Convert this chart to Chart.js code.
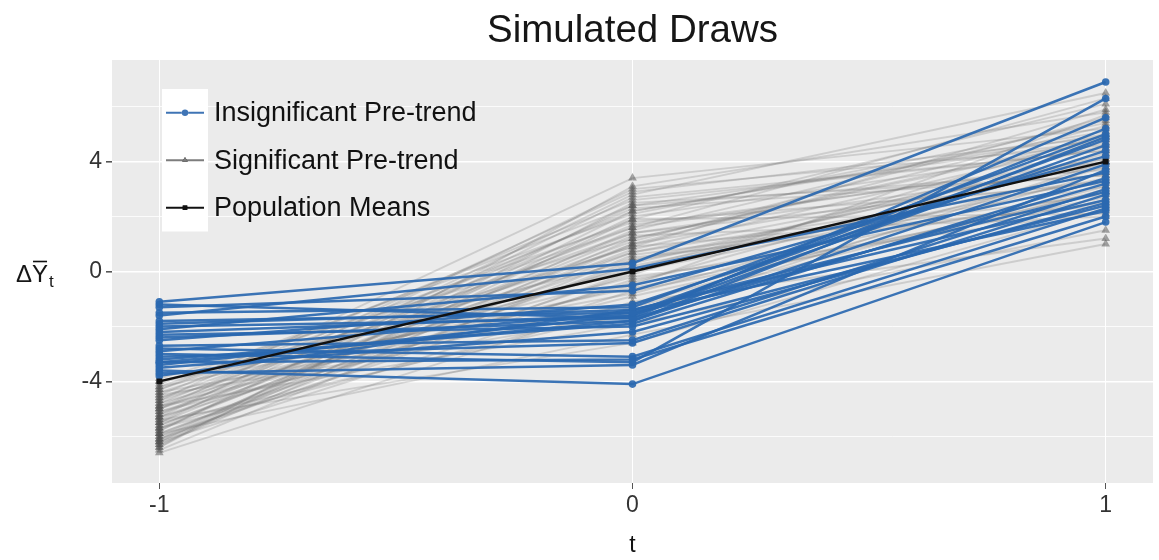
<!DOCTYPE html>
<html>
<head>
<meta charset="utf-8">
<title>Simulated Draws</title>
<script src="https://cdn.jsdelivr.net/npm/chart.js@4/dist/chart.umd.min.js"></script>
<style>
  html, body { margin: 0; padding: 0; background: #fff; }
  #wrap { width: 1159px; height: 560px; position: relative; }
</style>
</head>
<body>
<div id="wrap"><canvas id="draws-chart"></canvas></div>
<script>
/* ─── Data ──────────────────────────────────────────────────────────────────── */

const periods     = [-1, 0, 1];
const yGridValues = [-6, -4, -2, 0, 2, 4, 6];
const yLabelled   = [-4, 0, 4];
const seriesNames = ['Insignificant Pre-trend', 'Significant Pre-trend', 'Population Means'];

// draws whose pre-trend test is not significant (value at t = -1, 0, 1)
const insigPre  = [-1.1, -1.3, -1.5, -1.6, -1.8, -1.9, -2.0, -2.2, -2.3, -2.4, -2.5, -2.7, -2.9,
                   -3.0, -3.1, -3.2, -3.3, -3.4, -3.5, -3.6, -3.7, -3.8, -1.2, -2.1, -3.3, -2.8];
const insigMid  = [0.3, -0.7, -1.3, 0.1, -1.5, -1.4, -1.7, -1.6, -2.0, -1.8, -1.2, -2.5, -1.5,
                   -3.3, -2.6, -1.9, -3.2, -1.6, -2.2, -4.1, -3.4, -1.4, -1.7, -0.5, -1.8, -3.1];
const insigPost = [6.9, 4.2, 5.0, 3.6, 4.8, 2.6, 3.2, 5.2, 2.4, 3.9, 4.4, 3.0, 2.2,
                   6.3, 2.8, 3.4, 2.0, 4.6, 2.5, 1.8, 3.7, 2.9, 5.6, 3.3, 4.9, 2.3];

// draws with a significant pre-trend
const sigPre  = [-3.9, -4.0, -4.1, -4.2, -4.3, -4.4, -4.4, -4.5, -4.6, -4.6, -4.7, -4.8, -4.9, -4.9, -5.0,
                 -5.0, -5.1, -5.2, -5.2, -5.3, -5.3, -5.4, -5.5, -5.5, -5.6, -5.7, -5.7, -5.8, -5.9, -5.9,
                 -6.0, -6.1, -6.1, -6.2, -6.3, -6.4, -6.5, -6.6, -4.2, -4.5, -4.8, -5.1, -5.4, -5.6, -5.8,
                 -6.0, -6.2, -6.4, -4.0, -4.7, -5.0, -5.3, -5.7, -6.1, -6.3, -4.3, -4.9, -5.5, -5.9, -6.2];
const sigMid  = [1.2, 0.4, 2.1, -0.6, 1.6, -1.2, 0.9, 2.6, -0.2, 1.4, 3.4, 0.1, -1.9, 1.9, 0.7,
                 2.9, -0.9, 1.1, 2.3, -0.4, 0.5, 1.7, 2.8, -1.5, 0.8, 1.3, -0.1, 2.4, 0.3, -2.3,
                 1.5, 0.0, 2.0, -0.7, 1.0, 3.1, 0.6, -1.1, 1.8, -1.6, 2.2, 0.2, -2.6, 1.0, 2.7,
                 -0.3, 1.2, 2.5, -0.8, 0.9, 1.6, 3.0, -1.3, 0.4, 1.9, 2.4, -0.5, 1.4, 0.7, 2.2];
const sigPost = [4.8, 3.1, 5.4, 2.7, 4.1, 3.6, 5.9, 4.4, 2.2, 3.8, 5.2, 4.6, 1.5, 6.1, 3.3,
                 4.9, 2.9, 5.6, 3.5, 4.3, 2.5, 4.0, 6.5, 3.0, 4.7, 2.0, 5.0, 3.7, 4.2, 1.0,
                 5.5, 3.4, 4.5, 2.6, 3.9, 5.8, 2.8, 1.2, 3.2, 4.0, 5.1, 3.6, 2.3, 5.3, 4.4,
                 2.9, 4.9, 3.5, 3.8, 2.4, 6.3, 4.6, 3.1, 4.1, 2.1, 4.8, 5.7, 3.3, 4.0, 5.0];

const popMeans = [-4, 0, 4];

/* ─── Styles ────────────────────────────────────────────────────────────────── */

const FONT      = '"Liberation Sans", Arial, Helvetica, sans-serif';
const PANEL_BG  = '#ebebeb';
const TICK_TEXT = '#333333';

const STYLE = {
  insig: { line: 'rgba(42,104,176,0.92)', point: 'rgba(42,104,176,0.92)', width: 2.5, shape: 'circle',   radius: 3.8 },
  sig:   { line: 'rgba(120,120,120,0.26)', point: 'rgba(80,80,80,0.5)',   width: 1.9, shape: 'triangle', radius: 5 },
  pop:   { line: '#111111',                point: '#111111',              width: 2.5, shape: 'rect',     radius: 4 },
};

const LEGEND_KEYS = [
  { color: '#3f74b5', shape: 'circle' },
  { color: '#7d7d7d', shape: 'triangle' },
  { color: '#111111', shape: 'rect' },
];

/* ─── Datasets ──────────────────────────────────────────────────────────────── */

function drawSeries(values, style, order) {
  return {
    data:             periods.map((t, k) => ({ x: t, y: values[k] })),
    borderColor:      style.line,
    borderWidth:      style.width,
    backgroundColor:  style.point,
    pointBackgroundColor: style.point,
    pointBorderColor: style.point,
    pointBorderWidth: 0,
    pointStyle:       style.shape,
    pointRadius:      style.radius,
    tension:          0,
    fill:             false,
    order,
  };
}

const datasets = [];
datasets.push(drawSeries(popMeans, STYLE.pop, 0));
insigPre.forEach((v, i) => datasets.push(drawSeries([v, insigMid[i], insigPost[i]], STYLE.insig, 1)));
sigPre.forEach((v, i) => datasets.push(drawSeries([v, sigMid[i], sigPost[i]], STYLE.sig, 2)));

/* ─── Plugins ───────────────────────────────────────────────────────────────── */

// grey ggplot-style panel behind the grid
const panelBackground = {
  id: 'panelBackground',
  beforeDraw(chart) {
    const { ctx, chartArea: a } = chart;
    ctx.save();
    ctx.fillStyle = PANEL_BG;
    ctx.fillRect(a.left, a.top, a.right - a.left, a.bottom - a.top);
    ctx.restore();
  },
};

// title and the y-axis label (Δ Y-bar with subscript t)
const annotations = {
  id: 'annotations',
  afterDraw(chart) {
    const { ctx, chartArea: a } = chart;
    ctx.save();
    ctx.fillStyle = '#161616';
    ctx.textBaseline = 'middle';
    ctx.textAlign = 'center';
    ctx.font = `38.5px ${FONT}`;
    ctx.fillText('Simulated Draws', (a.left + a.right) / 2, 31);

    const yMid = chart.scales.y.getPixelForValue(0);
    ctx.textAlign = 'left';
    ctx.textBaseline = 'alphabetic';
    ctx.font = `24px ${FONT}`;
    let x = 16;
    const base = yMid + 10;
    ctx.fillText('Δ', x, base);
    x += ctx.measureText('Δ').width;
    const yW = ctx.measureText('Y').width;
    ctx.fillText('Y', x, base);
    ctx.strokeStyle = '#111';
    ctx.lineWidth = 1.6;
    ctx.beginPath();
    ctx.moveTo(x + 1, base - 20);
    ctx.lineTo(x + yW - 1, base - 20);
    ctx.stroke();
    ctx.font = `17px ${FONT}`;
    ctx.fillText('t', x + yW + 1, base + 5);
    ctx.restore();
  },
};

// legend sitting inside the panel, white key boxes, labels on the panel
const insideLegend = {
  id: 'insideLegend',
  afterDatasetsDraw(chart) {
    const { ctx } = chart;
    const keyLeft = 162, keyW = 46, keyTop = 89, rowH = 47.5;
    ctx.save();
    ctx.fillStyle = '#ffffff';
    ctx.fillRect(keyLeft, keyTop, keyW, rowH * seriesNames.length);

    seriesNames.forEach((name, i) => {
      const cy = keyTop + rowH * i + rowH / 2;
      const key = LEGEND_KEYS[i];
      ctx.strokeStyle = key.color;
      ctx.lineWidth = 2;
      ctx.beginPath();
      ctx.moveTo(keyLeft + 4, cy);
      ctx.lineTo(keyLeft + keyW - 4, cy);
      ctx.stroke();
      Chart.helpers.drawPoint(ctx, { pointStyle: key.shape, radius: 3.2, borderWidth: 0 }, keyLeft + keyW / 2, cy);
      ctx.fillStyle = key.color;
      ctx.fill();

      ctx.fillStyle = '#111';
      ctx.font = `27px ${FONT}`;
      ctx.textBaseline = 'middle';
      ctx.textAlign = 'left';
      ctx.fillText(name, keyLeft + keyW + 6, cy + 1);
    });
    ctx.restore();
  },
};

/* ─── Chart ─────────────────────────────────────────────────────────────────── */

new Chart(document.getElementById('draws-chart').getContext('2d'), {
  type: 'line',
  data: { datasets },
  options: {
    responsive: true,
    maintainAspectRatio: false,
    animation: false,
    layout: { padding: { top: 60, right: 6, bottom: 0, left: 0 } },
    plugins: {
      legend:  { display: false },
      tooltip: { enabled: false },
      title:   { display: false },
    },
    scales: {
      x: {
        type: 'linear',
        min: -1.1,
        max: 1.1,
        afterBuildTicks: scale => { scale.ticks = periods.map(v => ({ value: v })); },
        afterFit: scale => { scale.height = 77; },
        border: { display: false },
        grid: {
          color: '#ffffff',
          lineWidth: 1,
          tickLength: 6,
          tickColor: '#555',
        },
        ticks: {
          color: TICK_TEXT,
          font: { family: FONT, size: 23 },
          padding: 3,
          callback: v => String(v),
        },
        title: {
          display: true,
          text: 't',
          color: '#111',
          font: { family: FONT, size: 23 },
          padding: { top: 0, bottom: 1 },
        },
      },
      y: {
        type: 'linear',
        min: -7.7,
        max: 7.7,
        afterBuildTicks: scale => { scale.ticks = yGridValues.map(v => ({ value: v })); },
        afterFit: scale => { scale.width = 112; },
        border: { display: false },
        grid: {
          color: '#ffffff',
          lineWidth: ctx => (yLabelled.includes(ctx.tick && ctx.tick.value) ? 1.6 : 0.8),
          tickLength: 6,
          tickColor: ctx => (yLabelled.includes(ctx.tick && ctx.tick.value) ? '#555' : 'rgba(0,0,0,0)'),
        },
        ticks: {
          color: TICK_TEXT,
          font: { family: FONT, size: 23 },
          padding: 4,
          callback: v => (yLabelled.includes(v) ? String(v) : ''),
        },
      },
    },
  },
  plugins: [panelBackground, annotations, insideLegend],
});
</script>
</body>
</html>
